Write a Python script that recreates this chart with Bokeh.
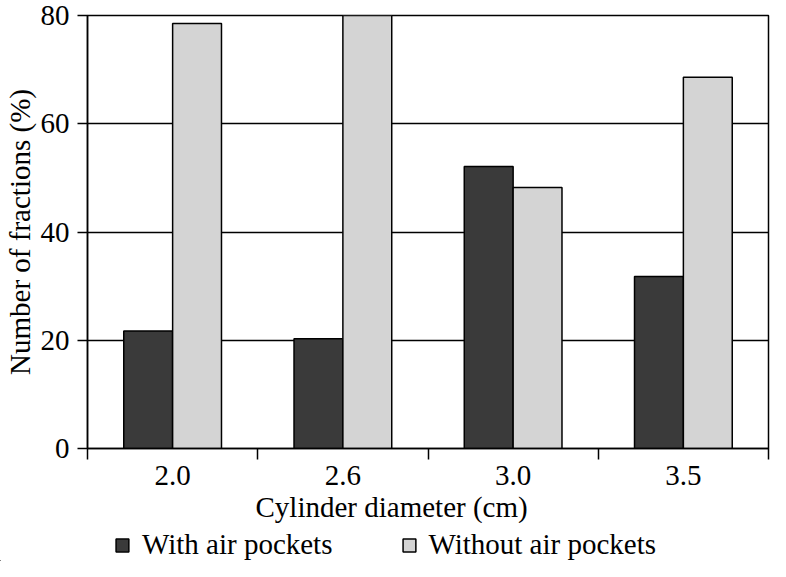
from bokeh.plotting import figure
from bokeh.layouts import column
from bokeh.models import ColumnDataSource, FixedTicker, Legend, LegendItem, Title, Range1d
from bokeh.transform import dodge
from bokeh.embed import file_html
from bokeh.resources import INLINE

# ---- data ----
diameters = ["2.0", "2.6", "3.0", "3.5"]
with_air = [21.7, 20.3, 52.1, 31.8]
without_air = [78.5, 80.0, 48.2, 68.6]
y_ticks = [0, 20, 40, 60, 80]
series_names = ["With air pockets", "Without air pockets"]
x_title = "Cylinder diameter (cm)"
y_title = "Number of fractions (%)"

FONT = "Liberation Serif"
FS = "29px"
DARK = "#3a3a3a"
LIGHT = "#d4d4d4"
W = 770

n = len(diameters)
pos = [i + 0.5 for i in range(n)]
src = ColumnDataSource(dict(pos=pos, cat=diameters, with_air=with_air, without_air=without_air))

p = figure(width=W, height=523, output_backend="svg", toolbar_location=None,
           x_range=Range1d(0, n), y_range=Range1d(0, 80),
           min_border_top=15, min_border_right=2, min_border_left=0, min_border_bottom=0)
p.frame_align = False

bw = 0.287
r1 = p.vbar(x=dodge("pos", -bw / 2), top="with_air", bottom=0, width=bw, source=src,
            fill_color=DARK, line_color="black", line_width=1.5)
r2 = p.vbar(x=dodge("pos", bw / 2), top="without_air", bottom=0, width=bw, source=src,
            fill_color=LIGHT, line_color="black", line_width=1.5)

# frame / grid
p.outline_line_color = "black"
p.outline_line_width = 1.5
p.xgrid.grid_line_color = None
p.ygrid.grid_line_color = "black"
p.ygrid.grid_line_width = 1.5
p.ygrid.ticker = FixedTicker(ticks=y_ticks)
p.background_fill_color = "white"
p.border_fill_color = "white"

# y axis
ya = p.yaxis[0]
ya.ticker = FixedTicker(ticks=y_ticks)
ya.major_tick_out = 10
ya.major_tick_in = 0
ya.minor_tick_out = 0
ya.minor_tick_in = 0
ya.major_tick_line_width = 1.5
ya.axis_line_width = 1.5
ya.major_label_standoff = 8
ya.major_label_text_font = FONT
ya.major_label_text_font_size = FS
ya.major_label_text_color = "black"
ya.axis_label = y_title
ya.axis_label_text_font = FONT
ya.axis_label_text_font_size = FS
ya.axis_label_text_font_style = "normal"
ya.axis_label_text_color = "black"
ya.axis_label_standoff = 2

# x axis: labels at category centres, ticks at category boundaries
xa = p.xaxis[0]
xa.ticker = FixedTicker(ticks=pos, minor_ticks=list(range(n + 1)))
xa.major_label_overrides = {pp: c for pp, c in zip(pos, diameters)}
xa.major_tick_out = 0
xa.major_tick_in = 0
xa.minor_tick_out = 11
xa.minor_tick_in = 0
xa.minor_tick_line_width = 1.5
xa.minor_tick_line_color = "black"
xa.axis_line_width = 1.5
xa.major_label_standoff = 6
xa.major_label_text_font = FONT
xa.major_label_text_font_size = FS
xa.major_label_text_color = "black"

# x title, shifted so that it sits centred on the page like the reference
t = Title(text=x_title, align="left", offset=168, text_font=FONT, text_font_size=FS,
          text_font_style="normal", text_color="black", standoff=2)
p.add_layout(t, "below")

# ---- lower strip: legend centred on the page as in the reference ----
p2 = figure(width=W, height=38, output_backend="svg", toolbar_location=None,
            x_range=Range1d(100, 100 + n), y_range=Range1d(100, 101),
            x_axis_location=None, y_axis_location=None,
            min_border_top=0, min_border_left=0, min_border_right=0, min_border_bottom=0)
p2.frame_align = False
p2.grid.visible = False
p2.outline_line_color = None
p2.border_fill_color = "white"

# legend keys (same series; the strip's ranges keep these bars out of view)
k1 = p2.vbar(x=dodge("pos", -bw / 2), top="with_air", bottom=0, width=bw, source=src,
             fill_color=DARK, line_color="black", line_width=1.5)
k2 = p2.vbar(x=dodge("pos", bw / 2), top="without_air", bottom=0, width=bw, source=src,
             fill_color=LIGHT, line_color="black", line_width=1.5)

legend = Legend(items=[LegendItem(label=series_names[0], renderers=[k1]),
                       LegendItem(label=series_names[1], renderers=[k2])],
                orientation="horizontal", location="bottom",
                glyph_width=16, glyph_height=16, label_standoff=12, spacing=68,
                padding=0, margin=0, border_line_color=None, background_fill_alpha=0,
                label_text_font=FONT, label_text_font_size=FS, label_text_color="black")
p2.add_layout(legend, "center")

open("out.html", "w").write(file_html(column(p, p2, spacing=0), INLINE))
